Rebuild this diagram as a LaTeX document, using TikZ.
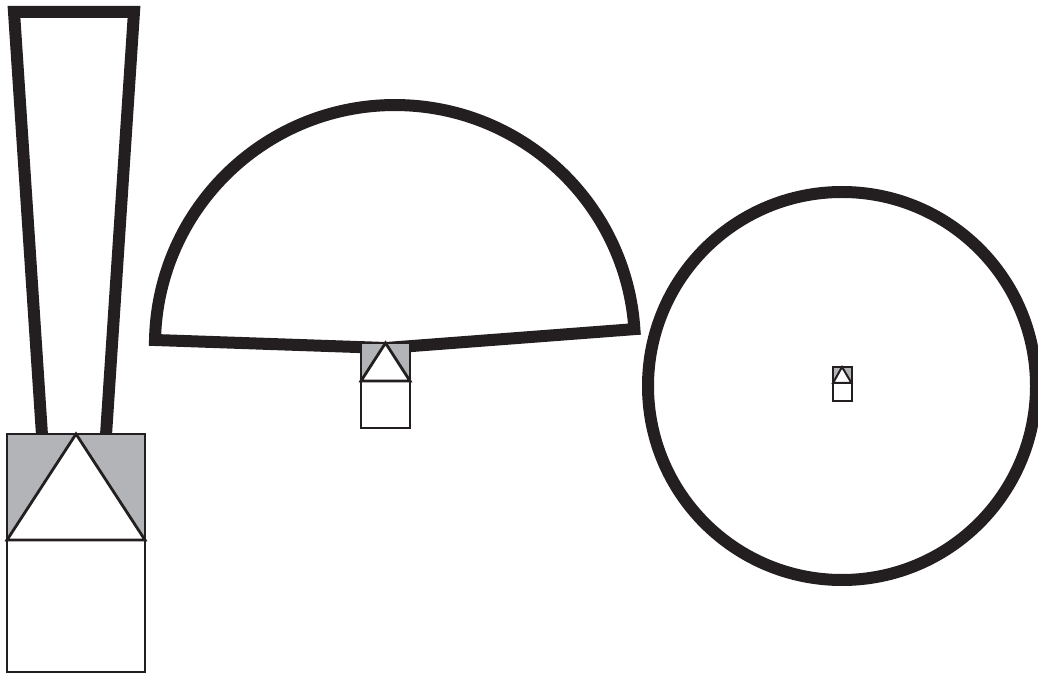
\documentclass[tikz,border=0pt]{standalone}
\usepackage{tikz}
\usepackage{xcolor}
\definecolor{ink}{HTML}{231F20}
\definecolor{roofgray}{HTML}{B3B4B8}

\begin{document}
\begin{tikzpicture}[x=1pt,y=1pt,
  outline/.style={draw=ink,line width=12pt,line join=miter},
  thin/.style={draw=ink,line width=2.8pt},
  tiny/.style={draw=ink,line width=2pt}]
\useasboundingbox (0,0) rectangle (1038,675);

% tall beam
\draw[outline] (42,240)--(14,663)--(134,663)--(106,240);
\fill[roofgray] (7,135) rectangle (145,241);
\filldraw[thin,fill=white] (7,135)--(76,241)--(145,135)--cycle;
\draw[thin] (7,3) rectangle (145,241);
\draw[thin] (7,135)--(145,135);

% fan
\draw[outline] (155,335) arc[start angle=178.8,end angle=3.8,radius=240]--(386,327)--cycle;
\fill[roofgray] (361,294) rectangle (410,332);
\fill[white] (361,247) rectangle (410,294);
\filldraw[thin,fill=white] (361,294)--(385.5,332)--(410,294)--cycle;
\draw[thin] (361,247) rectangle (410,332);
\draw[thin] (361,294)--(410,294);

% disc
\draw[outline] (842,289) circle[radius=194];
\fill[roofgray] (833,292) rectangle (851.5,308);
\filldraw[tiny,fill=white] (833,292)--(842,308)--(851.5,292)--cycle;
\draw[tiny] (833,274) rectangle (851.5,308);
\draw[tiny] (833,292)--(851.5,292);
\end{tikzpicture}
\end{document}
